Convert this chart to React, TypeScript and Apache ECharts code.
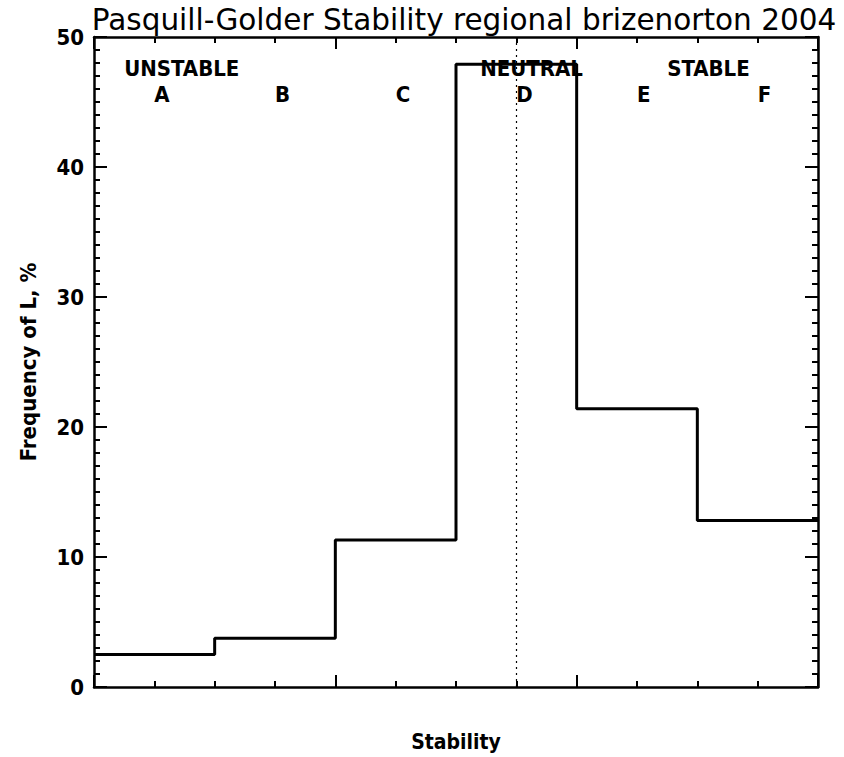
import React, { useEffect, useRef } from "react";
import * as echarts from "echarts";

const categories = ["A", "B", "C", "D", "E", "F"];
const frequency = [2.5, 3.75, 11.3, 47.9, 21.4, 12.8];
const regimeLabels = ["UNSTABLE", "NEUTRAL", "STABLE"];
const regimeX = [0.5, 6.4, 9.5];
const regimeY = 47;
const letterY = 45;
const xMax = 12;
const yMax = 50;
const titleText = "Pasquill-Golder Stability regional brizenorton 2004";

const COND = "'DejaVu Sans Condensed', 'DejaVu Sans', sans-serif";

export default function App() {
  const ref = useRef<HTMLDivElement>(null);
  useEffect(() => {
    if (!ref.current) return;
    const chart = echarts.init(ref.current, null, { renderer: "svg" });
    const width = xMax / categories.length;
    const stepData: number[][] = categories.map((_, i) => [i * width, frequency[i]]);
    stepData.push([xMax, frequency[frequency.length - 1]]);
    const neutralX = categories.indexOf("D") * width + width / 2;

    const axisBase = {
      axisLine: { show: true, onZero: false, lineStyle: { color: "#000", width: 2.5 } },
      splitLine: { show: false },
    };
    const xAxisCommon = {
      ...axisBase,
      type: "value",
      min: 0,
      max: xMax,
      interval: 4,
      axisTick: { show: true, inside: true, length: 12, lineStyle: { color: "#000", width: 2 } },
      minorTick: { show: true, splitNumber: 4, length: 6, lineStyle: { color: "#000", width: 2 } },
      axisLabel: { show: false },
    };
    const yAxisCommon = {
      ...axisBase,
      type: "value",
      min: 0,
      max: yMax,
      interval: 10,
      axisTick: { show: true, inside: true, length: 13, lineStyle: { color: "#000", width: 2 } },
      minorTick: { show: true, splitNumber: 10, length: 6, lineStyle: { color: "#000", width: 2 } },
    };

    chart.setOption({
      animation: false,
      backgroundColor: "#fff",
      title: {
        text: titleText,
        left: 459,
        textAlign: "center",
        top: 0,
        textStyle: { fontFamily: "'DejaVu Sans', sans-serif", fontSize: 29.5, fontWeight: "normal", color: "#000" },
      },
      grid: { left: 94, right: 26, top: 37, bottom: 68 },
      xAxis: [
        {
          ...xAxisCommon,
          position: "bottom",
          name: "Stability",
          nameLocation: "middle",
          nameGap: 44,
          nameTextStyle: { fontFamily: COND, fontSize: 21, fontWeight: "bold", color: "#000" },
        },
        { ...xAxisCommon, position: "top" },
      ],
      yAxis: [
        {
          ...yAxisCommon,
          position: "left",
          axisLabel: { show: true, margin: 10, fontFamily: COND, fontSize: 22, fontWeight: "bold", color: "#000" },
          name: "Frequency of L, %",
          nameLocation: "middle",
          nameRotate: 90,
          nameGap: 55,
          nameTextStyle: { fontFamily: COND, fontSize: 22, fontWeight: "bold", color: "#000" },
        },
        { ...yAxisCommon, position: "right", axisLabel: { show: false } },
      ],
      series: [
        {
          type: "line",
          step: "end",
          data: stepData,
          symbol: "none",
          lineStyle: { color: "#000", width: 3 },
          markLine: {
            silent: true,
            symbol: "none",
            label: { show: false },
            lineStyle: { color: "#000", width: 1.2, type: [2, 4] },
            data: [{ xAxis: neutralX }],
          },
        },
        {
          type: "scatter",
          silent: true,
          symbolSize: 0,
          itemStyle: { color: "#000" },
          data: [
            ...regimeLabels.map((t, i) => ({ value: [regimeX[i], regimeY], name: t })),
            ...categories.map((c, i) => ({ value: [i * width + 1, letterY], name: c })),
          ],
          label: {
            show: true,
            position: "inside",
            align: "left",
            verticalAlign: "bottom",
            offset: [0, 3],
            formatter: (p: any) => p.name,
            fontFamily: COND,
            fontSize: 22,
            fontWeight: "bold",
            color: "#000",
            textBorderWidth: 0,
            opacity: 1,
          },
        },
      ],
    });
    return () => chart.dispose();
  }, []);
  return (
    <div
      ref={ref}
      style={{ position: "fixed", left: 0, top: 0, width: 844, height: 757, background: "#fff" }}
    />
  );
}
